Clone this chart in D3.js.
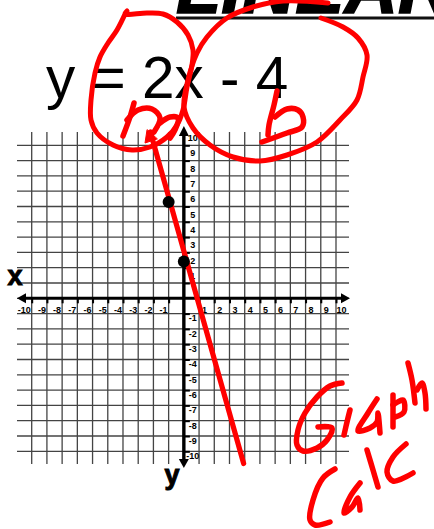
<!DOCTYPE html>
<html>
<head>
<meta charset="utf-8">
<script src="https://cdn.jsdelivr.net/npm/d3@7"></script>
<style>
  html, body { margin: 0; padding: 0; background: #fff; }
  svg { display: block; }
  text { font-family: "Liberation Sans", Arial, sans-serif; }
</style>
</head>
<body>
<svg id="mainsvg" width="434" height="529"></svg>
<script>
const titleText = 'LINEAR';
const equationText = 'y = 2x - 4';
const xTicks = [-10, -9, -8, -7, -6, -5, -4, -3, -2, -1, 1, 2, 3, 4, 5, 6, 7, 8, 9, 10];
const yTicks = [-10, -9, -8, -7, -6, -5, -4, -3, -2, -1, 1, 2, 3, 4, 5, 6, 7, 8, 9, 10];
const gridValues = d3.range(-10, 11);
// hand drawn line and its two dots
const lineX = [-2.2, 3.93];
const lineY = [10.87, -10.8];
const dotX = [-1, 0];
const dotY = [6.3, 2.4];

// red pen strokes, page pixels
const inkCircleM = [[127,11],[125,14],[147,13],[163,14],[177,22],[188,35],[193,50],[192,65],[187,87],[183,110],[177,125],[167,137],[150,147],[132,150],[113,145],[97,133],[91,120],[91,100],[95,73],[100,57],[108,43],[117,30],[126,12]];
const inkCircleB = [[328,3],[283,1],[253,7],[227,18],[207,37],[197,53],[188,80],[184,107],[193,128],[210,145],[233,157],[260,161],[287,155],[317,142],[340,120],[357,100],[363,77],[367,55],[358,38],[343,27],[321,18]];
const inkM = [[[134,103],[130,117],[123,136]], [[127,120],[138,110],[152,109],[160,118],[154,132]], [[160,123],[170,117],[178,118],[175,130],[170,138]]];
const inkB = [[[277,91],[274,105],[269,125],[268,135]], [[275,117],[287,109],[298,110],[303,117],[302,127],[287,133],[262,142]]];
const inkGraph = [
  [[342,383],[330,386],[317,397],[305,413],[298,430],[297,445],[303,451],[317,448],[327,440],[332,428],[318,427]],
  [[350,410],[347,422],[344,435]],
  [[377,399],[368,413],[358,431],[370,428],[377,422],[378,413],[380,433]],
  [[393,395],[393,427]], [[393,405],[403,400],[404,412],[395,417]],
  [[408,363],[412,380],[415,403]], [[417,390],[422,383],[425,393],[426,409]]
];
const inkCalc = [
  [[335,469],[323,478],[313,500],[310,520],[315,525],[330,522]],
  [[360,483],[350,497],[344,513],[352,507],[358,498],[360,510]],
  [[367,450],[373,470],[378,487]],
  [[406,444],[393,457],[387,472],[393,481],[413,473]]
];

const svg = d3.select('#mainsvg');

const xScale = d3.scaleLinear().domain([-10, 10]).range([31.7, 336]);
const yScale = d3.scaleLinear().domain([-10, 10]).range([451.3, 145.3]);

// title, cut off by the top of the picture
svg.append('text')
  .text(titleText)
  .attr('x', 176)
  .attr('y', 13)
  .attr('font-size', 74)
  .attr('font-weight', 'bold')
  .attr('font-style', 'italic')
  .attr('fill', '#000')
  .attr('stroke', '#000')
  .attr('stroke-width', 1.5);
svg.append('line')
  .attr('x1', 176).attr('x2', 434)
  .attr('y1', 18).attr('y2', 18)
  .attr('stroke', '#111')
  .attr('stroke-width', 3);

svg.append('text')
  .text(equationText)
  .attr('x', 46)
  .attr('y', 98)
  .attr('font-size', 58.5)
  .attr('fill', '#000');

// grid
const grid = svg.append('g').attr('id', 'grid');
gridValues.forEach(v => {
  grid.append('line')
    .attr('x1', xScale(v)).attr('x2', xScale(v))
    .attr('y1', 132).attr('y2', 464)
    .attr('stroke', '#444').attr('stroke-width', 1.3);
  grid.append('line')
    .attr('x1', 17).attr('x2', 349)
    .attr('y1', yScale(v)).attr('y2', yScale(v))
    .attr('stroke', '#444').attr('stroke-width', 1.3);
});

// axes, ticks first so the labels can be moved next to the lines
const xAxis = d3.axisBottom(xScale).tickValues(xTicks).tickSize(5).tickFormat(d => d);
const yAxis = d3.axisRight(yScale).tickValues(yTicks).tickSize(6).tickFormat(d => d);

const gx = svg.append('g').attr('transform', `translate(0, ${yScale(0)})`).call(xAxis);
const gy = svg.append('g').attr('transform', `translate(${xScale(0)}, 0)`).call(yAxis);
gx.select('.domain').remove();
gy.select('.domain').remove();
[gx, gy].forEach(a => {
  a.selectAll('.tick line').attr('stroke', '#000').attr('stroke-width', 2);
  a.selectAll('.tick text')
    .attr('font-family', '"Liberation Sans", Arial, sans-serif')
    .attr('font-size', 9)
    .attr('font-weight', 'bold')
    .attr('fill', '#000');
});
gx.selectAll('.tick text')
  .attr('y', 8)
  .attr('dy', '0.71em')
  .attr('x', d => d < 0 ? -1.5 : 5)
  .attr('text-anchor', d => d < 0 ? 'end' : 'middle');
gy.selectAll('.tick text')
  .attr('x', 9)
  .attr('dy', '0.32em')
  .attr('y', d => d < 0 ? 4.5 : -7.5)
  .attr('text-anchor', 'middle');

svg.append('line')
  .attr('x1', 22).attr('x2', 344)
  .attr('y1', yScale(0)).attr('y2', yScale(0))
  .attr('stroke', '#000').attr('stroke-width', 3);
svg.append('line')
  .attr('x1', xScale(0)).attr('x2', xScale(0))
  .attr('y1', 132).attr('y2', 463)
  .attr('stroke', '#000').attr('stroke-width', 3.4);

const arrow = d3.line();
const ax = xScale(0), ay = yScale(0);
[
  [[17, ay], [26, ay - 5], [26, ay + 5]],
  [[350, ay], [341, ay - 5], [341, ay + 5]],
  [[ax, 126], [ax - 5, 136], [ax + 5, 136]],
  [[ax, 468], [ax - 5, 459], [ax + 5, 459]]
].forEach(p => svg.append('path').attr('d', arrow(p) + 'Z').attr('fill', '#000'));

svg.append('text').text('x')
  .attr('x', 15).attr('y', 285)
  .attr('text-anchor', 'middle')
  .attr('font-size', 27).attr('font-weight', 'bold').attr('fill', '#000')
  .attr('stroke', '#000').attr('stroke-width', 1);
svg.append('text').text('y')
  .attr('x', 172).attr('y', 484)
  .attr('text-anchor', 'middle')
  .attr('font-size', 27).attr('font-weight', 'bold').attr('fill', '#000')
  .attr('stroke', '#000').attr('stroke-width', 1);

// red line through the points
const redLine = d3.line().x(d => xScale(d[0])).y(d => yScale(d[1]));
svg.append('path')
  .attr('d', redLine(d3.zip(lineX, lineY)))
  .attr('fill', 'none')
  .attr('stroke', '#f00')
  .attr('stroke-width', 5.2)
  .attr('stroke-linecap', 'round');

svg.selectAll('circle.dot')
  .data(d3.zip(dotX, dotY))
  .join('circle')
  .attr('class', 'dot')
  .attr('cx', d => xScale(d[0]))
  .attr('cy', d => yScale(d[1]))
  .attr('r', 6)
  .attr('fill', '#000');

// pen
const pen = d3.line().curve(d3.curveCatmullRom.alpha(0.5));
const ink = svg.append('g').attr('id', 'ink')
  .attr('fill', 'none')
  .attr('stroke', '#f00')
  .attr('stroke-linecap', 'round')
  .attr('stroke-linejoin', 'round');
[inkCircleM, inkCircleB].forEach(s => ink.append('path').attr('d', pen(s)).attr('stroke-width', 5));
[...inkM, ...inkB, ...inkGraph, ...inkCalc].forEach(s => ink.append('path').attr('d', pen(s)).attr('stroke-width', 5.5));
ink.append('path').attr('d', arrow([[147, 130], [145, 143], [157, 139]]) + 'Z').attr('fill', '#f00').attr('stroke-width', 1);
</script>
</body>
</html>
